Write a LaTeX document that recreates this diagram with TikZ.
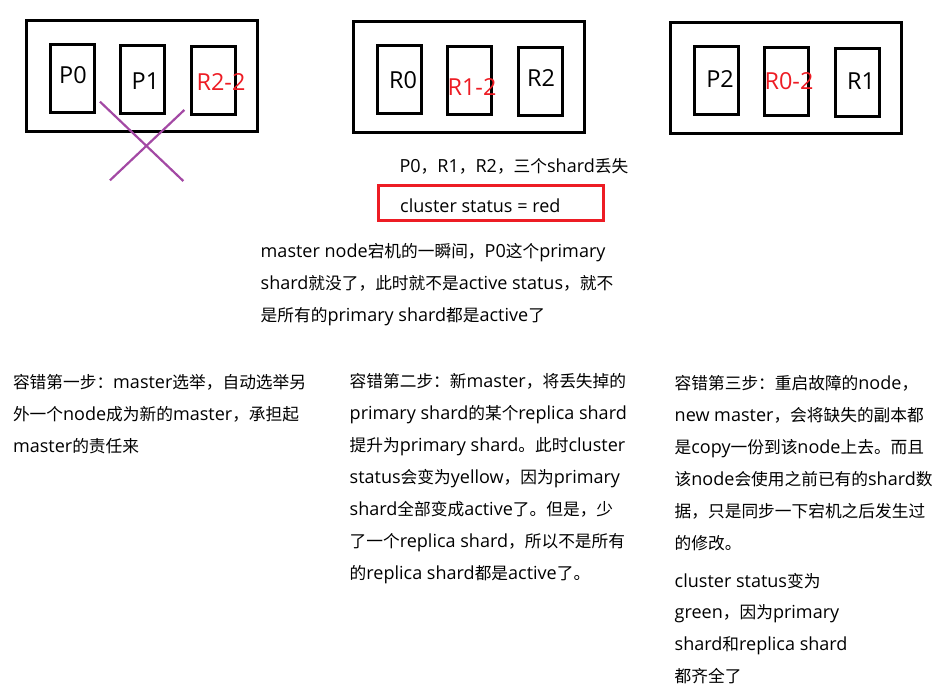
\documentclass[tikz,border=0pt]{standalone}
\usepackage{fontspec}
\setmainfont{Open Sans}[Scale=1.08]
\newfontfamily\cjk{Noto Sans CJK SC}
% Chinese runs are set in the CJK family, Latin runs in the main font
\newcommand\zhtxt[1]{{\cjk#1}}
\definecolor{lostred}{HTML}{ED1C24}
\definecolor{crosspurple}{HTML}{A349A4}
\begin{document}
\begin{tikzpicture}[x=1pt,y=-1pt,
  server/.style={draw, line width=3pt, inner sep=0, minimum width=231pt, minimum height=111pt},
  shardbox/.style={draw, line width=3pt, inner sep=0, minimum width=44pt, minimum height=68pt},
  shardlbl/.style={anchor=base, inner sep=0, font=\fontsize{21.7}{26}\selectfont},
  lostlbl/.style={shardlbl, text=lostred},
  para/.style={anchor=north west, inner sep=0, align=left, font=\fontsize{16.7}{32}\selectfont},
  oneline/.style={anchor=base west, inner sep=0, font=\fontsize{16.7}{32}\selectfont},
  statusframe/.style={draw=lostred, line width=2.6pt, inner sep=0, minimum width=225.4pt, minimum height=35.4pt},
  crossline/.style={draw=crosspurple, line width=2.2pt}]
\useasboundingbox (0,0) rectangle (952,698);

% ---- node 1 (the failed master) ----
\node[server] (n1) at (142,76) {};
\node[shardbox] (n1a) at (72.3,78.2) {};
\node[shardbox] (n1b) at (142.5,79.2) {};
\node[shardbox] (n1c) at (213.5,80.3) {};
\node[shardlbl] (p0) at (73,83.3) {P0};
\node[shardlbl] (p1) at (145.5,89.3) {P1};
\node[lostlbl] (r22) at (221,91) {R2-2};

% cross over the failed node
\coordinate (xa1) at (100,101.7);
\coordinate (xa2) at (183.3,181);
\coordinate (xb1) at (110,180.3);
\coordinate (xb2) at (184.3,110);
\draw[crossline] (xa1) -- (xa2);
\draw[crossline] (xb1) -- (xb2);

% ---- node 2 ----
\node[server] (n2) at (469,77) {};
\node[shardbox] (n2a) at (399.5,79.5) {};
\node[shardbox] (n2b) at (469.5,80.5) {};
\node[shardbox] (n2c) at (540.5,81.5) {};
\node[shardlbl] (r0) at (403,88.7) {R0};
\node[lostlbl] (r12) at (472,96) {R1-2};
\node[shardlbl] (r2) at (541,86.7) {R2};

% ---- node 3 ----
\node[server] (n3) at (786,78) {};
\node[shardbox] (n3a) at (716.5,80.5) {};
\node[shardbox] (n3b) at (786.5,81.5) {};
\node[shardbox] (n3c) at (857.5,82.5) {};
\node[shardlbl] (p2) at (720,87.3) {P2};
\node[lostlbl] (r02) at (789,89.3) {R0-2};
\node[shardlbl] (r1) at (861,89.3) {R1};

% ---- status after the failure ----
\node[oneline] (lost) at (399.3,172.7) {P0\zhtxt{，}R1\zhtxt{，}R2\zhtxt{，三个}shard\zhtxt{丢失}};
\node[statusframe] (redframe) at (491,203) {};
\node[oneline] (redstatus) at (400,212.3) {cluster status = red};

\node[para] (failnote) at (260.5,234.6) {\strut master node\zhtxt{宕机的一瞬间，}P0\zhtxt{这个}primary\\
shard\zhtxt{就没了，此时就不是}active status\zhtxt{，就不}\\
\zhtxt{是所有的}primary shard\zhtxt{都是}active\zhtxt{了}};

% ---- the three recovery steps ----
\node[para] (step1) at (12.8,365.6) {\strut\zhtxt{容错第一步：}master\zhtxt{选举，自动选举另}\\
\zhtxt{外一个}node\zhtxt{成为新的}master\zhtxt{，承担起}\\
master\zhtxt{的责任来}};

\node[para] (step2) at (349.5,364.6) {\strut\zhtxt{容错第二步：新}master\zhtxt{，将丢失掉的}\\
primary shard\zhtxt{的某个}replica shard\\
\zhtxt{提升为}primary shard\zhtxt{。此时}cluster\\
status\zhtxt{会变为}yellow\zhtxt{，因为}primary\\
shard\zhtxt{全部变成}active\zhtxt{了。但是，少}\\
\zhtxt{了一个}replica shard\zhtxt{，所以不是所有}\\
\zhtxt{的}replica shard\zhtxt{都是}active\zhtxt{了。}};

\node[para] (step3) at (674.5,366.9) {\strut\zhtxt{容错第三步：重启故障的}node\zhtxt{，}\\
new master\zhtxt{，会将缺失的副本都}\\
\zhtxt{是}copy\zhtxt{一份到该}node\zhtxt{上去。而且}\\
\zhtxt{该}node\zhtxt{会使用之前已有的}shard\zhtxt{数}\\
\zhtxt{据，只是同步一下宕机之后发生过}\\
\zhtxt{的修改。}};

\node[para, font=\fontsize{16.7}{31.6}\selectfont] (step3status) at (674.5,565) {\strut cluster status\zhtxt{变为}\\
green\zhtxt{，因为}primary\\
shard\zhtxt{和}replica shard\\
\zhtxt{都齐全了}};
\end{tikzpicture}
\end{document}
